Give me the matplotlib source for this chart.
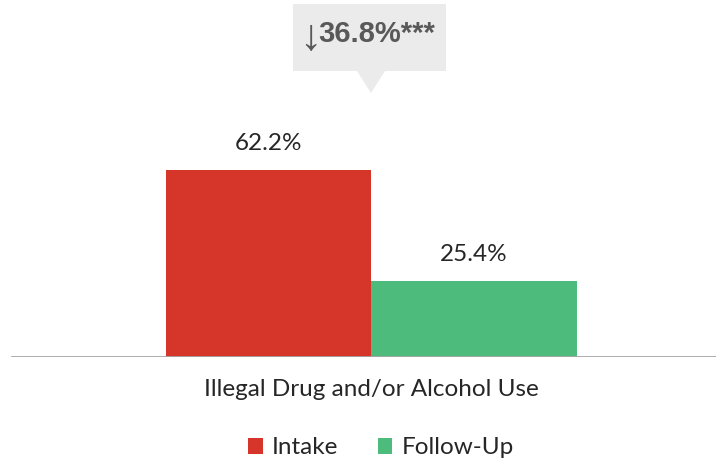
import numpy as np
import matplotlib
matplotlib.use("Agg")
import matplotlib.pyplot as plt
from matplotlib.patches import Patch, Polygon

# values in percent
category = "Illegal Drug and/or Alcohol Use"
series = ["Intake", "Follow-Up"]
values = [62.2, 25.4]
colors = ["#d6352a", "#4cbb7c"]
sig = "***"

W, H, DPI = 716, 462, 100
fig = plt.figure(figsize=(W / DPI, H / DPI), dpi=DPI)

# axes: baseline at y=357px, 3px per percentage point, centre of group at x=371px
base_px = 357
px_per_pct = 3.0
unit_px = 513.75
ax = fig.add_axes([0, (H - base_px) / H, 1, base_px / H])
ax.set_ylim(0, base_px / px_per_pct)
ax.set_xlim(-371 / unit_px, (W - 371) / unit_px)

bar_w = 0.4
xs = np.array([-bar_w / 2, bar_w / 2])
bars = ax.bar(xs, values, width=bar_w, color=colors, zorder=2)

lab_font = "Lato"
lab_size = 17.5
for b, v in zip(bars, values):
    ax.text(b.get_x() + b.get_width() / 2, v + 5.3, f"{v:.1f}%",
            ha="center", va="bottom", fontsize=lab_size, family=lab_font,
            color="#262626")

ax.axhline(0, xmin=12 / W, xmax=1, color="#a6a6a6", lw=2, zorder=3)

for s in ax.spines.values():
    s.set_visible(False)
ax.set_yticks([])
ax.set_xticks([0], [category])
ax.tick_params(axis="x", length=0, pad=16, labelsize=lab_size, labelcolor="#262626")
for t in ax.get_xticklabels():
    t.set_family(lab_font)

# callout box with pointer above the group
bx0, bx1 = -78 / unit_px, 75 / unit_px
by0, by1 = (base_px - 71) / px_per_pct, (base_px - 4) / px_per_pct
tip_y = (base_px - 93) / px_per_pct
half = 14 / unit_px
callout = Polygon([(bx0, by0), (bx0, by1), (bx1, by1), (bx1, by0),
                   (half, by0), (0, tip_y), (-half, by0)],
                  closed=True, facecolor="#ebebeb", edgecolor="none", zorder=1)
ax.add_patch(callout)

diff = values[0] - values[1]
ty = (by0 + by1) / 2 + 1
ax.text(-61 / unit_px, ty - 1.3, "\u2193", ha="center", va="center", fontsize=32,
        family="Liberation Sans", color="#595959")
ax.text(-53 / unit_px, ty, f"{diff:.1f}%{sig}", ha="left", va="center",
        fontsize=21, family="Liberation Sans", fontweight="bold", color="#595959")

handles = [Patch(facecolor=c, edgecolor="none") for c in colors]
leg = fig.legend(handles, series, loc="center", bbox_to_anchor=(381 / W, 1 - 448 / H),
                 ncol=2, frameon=False, handlelength=0.6, handleheight=0.6,
                 handletextpad=0.4, columnspacing=1.6,
                 prop={"family": lab_font, "size": lab_size})
for t in leg.get_texts():
    t.set_color("#262626")

fig.savefig("out.png", dpi=DPI)
